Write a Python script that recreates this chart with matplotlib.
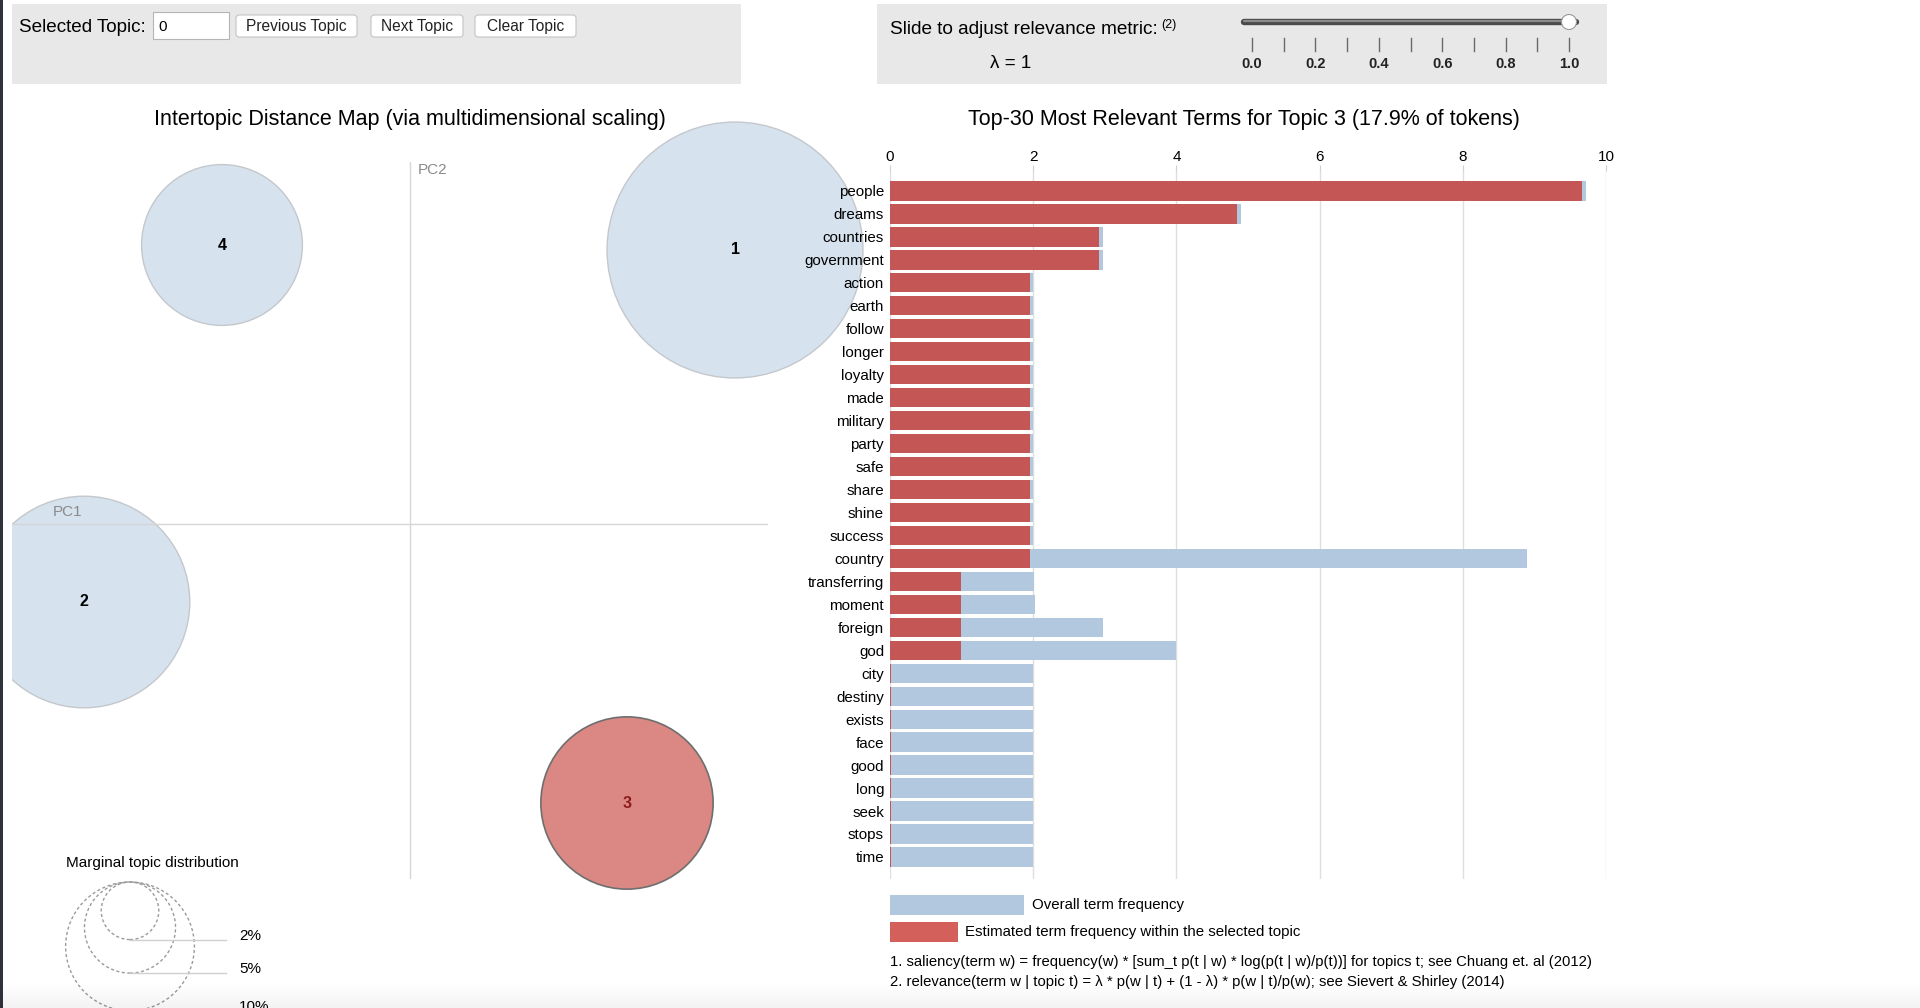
import matplotlib
matplotlib.use("Agg")
import matplotlib.pyplot as plt
import numpy as np
from matplotlib.patches import Circle, Rectangle, FancyBboxPatch

plt.rcParams['font.family'] = ['Liberation Sans', 'DejaVu Sans']

W, H = 1920, 1008

# intertopic distance map
topic_ids = [1, 2, 3, 4]
topic_pc1 = [0.325, -0.326, 0.217, -0.188]
topic_pc2 = [0.274, -0.078, -0.279, 0.279]
topic_pct = [39.5, 27.0, 17.9, 15.6]
selected_topic = 3
legend_pct = [2, 5, 10]

# top-30 terms for topic 3
terms = ["people", "dreams", "countries", "government", "action", "earth",
         "follow", "longer", "loyalty", "made", "military", "party", "safe",
         "share", "shine", "success", "country", "transferring", "moment",
         "foreign", "god", "city", "destiny", "exists", "face", "good",
         "long", "seek", "stops", "time"]
overall_freq = [9.72, 4.90, 2.97, 2.97, 2.0, 2.0, 2.0, 2.0, 2.0, 2.0, 2.0,
                2.0, 2.0, 2.0, 2.0, 2.0, 8.89, 2.01, 2.03, 2.97, 4.0, 2.0,
                2.0, 2.0, 2.0, 2.0, 2.0, 2.0, 2.0, 2.0]
topic_freq = [9.67, 4.85, 2.92, 2.92, 1.95, 1.95, 1.95, 1.95, 1.95, 1.95,
              1.95, 1.95, 1.95, 1.95, 1.95, 1.95, 1.95, 0.99, 0.99, 0.99,
              0.99, 0.02, 0.02, 0.02, 0.02, 0.02, 0.02, 0.02, 0.02, 0.02]
freq_ticks = [0, 2, 4, 6, 8, 10]

lambda_ticks = np.round(np.arange(0, 1.01, 0.1), 1)
lambda_value = 1

blue_bar = "#b1c8df"
red_bar = "#c45656"
red_legend = "#d4605b"

fig = plt.figure(figsize=(W / 100, H / 100), dpi=100)
fig.patch.set_facecolor("white")

# ---- page / widgets layer (pixel coordinates) ----
ui = fig.add_axes([0, 0, 1, 1], zorder=0)
ui.set_xlim(0, W)
ui.set_ylim(H, 0)
ui.axis("off")

ui.add_patch(Rectangle((12, 4), 729, 80, fc="#e8e8e8", ec="none"))
ui.add_patch(Rectangle((877, 4), 730, 80, fc="#e8e8e8", ec="none"))
ui.add_patch(Rectangle((0, 0), 3, H, fc="#30343a", ec="none"))

ui.text(19, 27, "Selected Topic:", fontsize=13.6, va="center", ha="left")
ui.add_patch(Rectangle((153, 12), 76, 27, fc="white", ec="#b5b5b5", lw=0.8))
ui.text(158, 27, "0", fontsize=11, va="center", ha="left")
for x0, x1, lab in [(236, 357, "Previous Topic"), (371, 463, "Next Topic"),
                    (475, 576, "Clear Topic")]:
    ui.add_patch(FancyBboxPatch((x0, 15), x1 - x0, 22,
                                boxstyle="round,pad=0,rounding_size=3",
                                fc="white", ec="#c4c4c4", lw=0.8))
    ui.text((x0 + x1) / 2, 27, lab, fontsize=11.2, va="center", ha="center",
            color="#222222")

ui.text(890, 30, "Slide to adjust relevance metric:", fontsize=13.7,
        va="center", ha="left")
ui.text(1161, 25, "(2)", fontsize=9, va="center", ha="left")
ui.text(1011, 63, "\u03bb = %d" % lambda_value, fontsize=13.6, va="center",
        ha="center")

slider_x = np.interp(lambda_ticks, [0, 1], [1252, 1569])
ui.plot([1244, 1576], [22, 22], color="#4a4a4a", lw=4.6,
        solid_capstyle="round")
ui.plot([1244, 1576], [21, 21], color="#8a8a8a", lw=1.6,
        solid_capstyle="round")
ui.add_patch(Circle((np.interp(lambda_value, [0, 1], [1252, 1569]), 22), 7.5,
                    fc="white", ec="#9a9a9a", lw=0.8, zorder=5))
for i, (x, t) in enumerate(zip(slider_x, lambda_ticks)):
    ui.plot([x, x], [38, 51], color="#6a6a6a", lw=1)
    if i % 2 == 0:
        ui.text(x, 64, "%.1f" % t, fontsize=10.5, fontweight="bold",
                va="center", ha="center", color="#222222")

ui.text(410, 119, "Intertopic Distance Map (via multidimensional scaling)",
        fontsize=15.5, va="center", ha="center")
ui.text(1244, 119,
        "Top-30 Most Relevant Terms for Topic %d (17.9%% of tokens)" % selected_topic,
        fontsize=15.5, va="center", ha="center")

# bar legend and footnotes
ui.add_patch(Rectangle((890, 895), 134, 20, fc=blue_bar, ec="none"))
ui.add_patch(Rectangle((890, 922), 68, 20, fc=red_legend, ec="none"))
ui.text(1032, 905, "Overall term frequency", fontsize=10.8, va="center")
ui.text(965, 932, "Estimated term frequency within the selected topic",
        fontsize=10.8, va="center")
ui.text(890, 962, "1. saliency(term w) = frequency(w) * [sum_t p(t | w) * "
        "log(p(t | w)/p(t))] for topics t; see Chuang et. al (2012)",
        fontsize=10.7, va="center")
ui.text(890, 982, "2. relevance(term w | topic t) = \u03bb * p(w | t) + "
        "(1 - \u03bb) * p(w | t)/p(w); see Sievert & Shirley (2014)",
        fontsize=10.7, va="center")
ui.text(66, 863, "Marginal topic distribution", fontsize=11, va="center")

# ---- intertopic distance map ----
mds = fig.add_axes([12 / W, 1 - 879 / H, 756 / W, 717 / H], zorder=1)
mds.set_xlim(-0.398, 0.358)
mds.set_ylim(-0.355, 0.362)
mds.patch.set_alpha(0)
mds.axis("off")
mds.axhline(0, color="#d6d6d6", lw=1)
mds.axvline(0, color="#d6d6d6", lw=1)
mds.text(-0.357, 0.012, "PC1", color="#8a8a8a", fontsize=11, va="center")
mds.text(0.008, 0.354, "PC2", color="#8a8a8a", fontsize=11, va="center")

# the map is cut at its left edge only
clip = Rectangle((12 / W, 0), 1, 1, transform=fig.transFigure)

k = 0.02036  # radius per sqrt(percent)
for tid, x, y, p in zip(topic_ids, topic_pc1, topic_pc2, topic_pct):
    sel = tid == selected_topic
    c = Circle((x, y), k * np.sqrt(p),
               fc="#db8783" if sel else "#d6e2ee",
               ec="#6e6e6e" if sel else "#c4c8cc",
               lw=1.2 if sel else 1.0)
    mds.add_patch(c)
    c.set_clip_path(clip)
    mds.text(x, y, str(tid), fontsize=11.5, fontweight="bold", ha="center",
             va="center", color="#8b1c1c" if sel else "black", zorder=3)

leg_x, leg_top = -0.28, -0.358
for p in legend_pct:
    r = k * np.sqrt(p)
    mds.add_patch(Circle((leg_x, leg_top - r), r, fill=False, ec="#9a9a9a",
                         lw=1, ls=(0, (2.2, 1.8)), clip_on=False))
    yb = leg_top - 2 * r
    mds.plot([leg_x, -0.184], [yb, yb], color="#d0d0d0", lw=1, clip_on=False)
    mds.text(-0.171, yb + 0.004, "%d%%" % p, fontsize=11, va="center",
             clip_on=False)

# ---- bar chart ----
bar = fig.add_axes([890 / W, 1 - 879 / H, 716 / W, 708 / H], zorder=2)
bar.patch.set_alpha(0)
rows = np.arange(len(terms))
bar.barh(rows, overall_freq, height=0.84, color=blue_bar, zorder=2)
bar.barh(rows, topic_freq, height=0.84, color=red_bar, zorder=3)
bar.set_xlim(0, 10)
bar.set_ylim(29.96, -0.87)
bar.set_xticks(freq_ticks)
bar.xaxis.tick_top()
bar.tick_params(axis="x", length=4, color="#cfcfcf", labelsize=11, pad=1)
bar.set_yticks(rows)
bar.set_yticklabels(terms)
bar.tick_params(axis="y", length=0, labelsize=10.9, pad=4.3)
bar.grid(axis="x", color="#dedede", lw=1, zorder=1)
bar.set_axisbelow(True)
for s in bar.spines.values():
    s.set_visible(False)

# bottom shadow of the screenshot
shade = fig.add_axes([0, 0, 1, 1], zorder=20)
shade.axis("off")
grad = np.zeros((40, 2, 4))
grad[..., 3] = np.linspace(0, 0.05, 40)[:, None]
shade.imshow(grad, extent=(0, W, H, 982), aspect="auto")
shade.set_xlim(0, W)
shade.set_ylim(H, 0)

fig.savefig("out.png", dpi=100)
